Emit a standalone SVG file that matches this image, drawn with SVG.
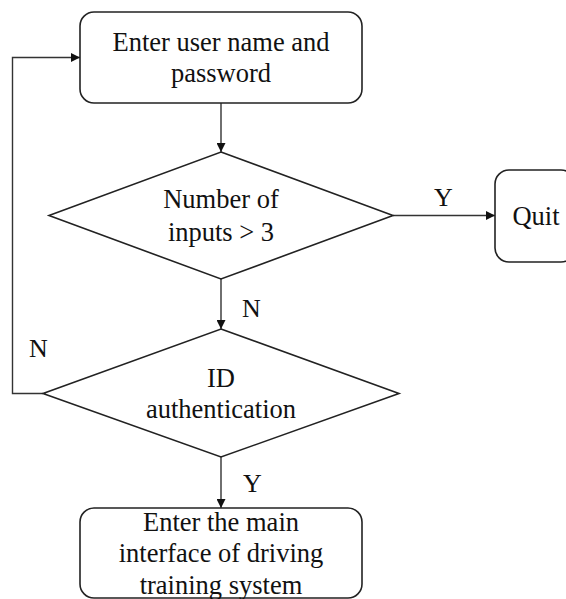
<svg xmlns="http://www.w3.org/2000/svg" width="566" height="599" viewBox="0 0 566 599" font-family="'Liberation Serif', 'DejaVu Serif', serif">
<style>
.shape{fill:#fff;stroke:#222;stroke-width:1.6}
.conn{fill:none;stroke:#333;stroke-width:1.4}
.t{font-family:'Liberation Serif','Times New Roman','DejaVu Serif',serif;font-size:26.5px;fill:#111;text-anchor:middle}
.lbl{font-family:'Liberation Serif','Times New Roman','DejaVu Serif',serif;font-size:26px;fill:#111;text-anchor:start}
</style>
<defs>
<marker id="arr" viewBox="0 0 10 10" refX="10" refY="5" markerWidth="9" markerHeight="9" markerUnits="userSpaceOnUse" orient="auto">
<path d="M0,0 L10,5 L0,10 z" fill="#111"/>
</marker>
</defs>
<g id="connectors">
<line class="conn" x1="221" y1="103" x2="221" y2="152" marker-end="url(#arr)"/>
<line class="conn" x1="393" y1="215.5" x2="495" y2="215.5" marker-end="url(#arr)"/>
<line class="conn" x1="221" y1="279" x2="221" y2="329" marker-end="url(#arr)"/>
<polyline class="conn" points="43,393.5 12.5,393.5 12.5,57.5 80,57.5" marker-end="url(#arr)"/>
<line class="conn" x1="221" y1="457" x2="221" y2="508" marker-end="url(#arr)"/>
<text class="lbl" x="434" y="206">Y</text>
<text class="lbl" x="242" y="317">N</text>
<text class="lbl" x="29" y="357">N</text>
<text class="lbl" x="243" y="492">Y</text>
</g>
<g id="n1">
<rect class="shape" x="80" y="12" width="282" height="91" rx="14"/>
<text class="t" x="221" y="51">Enter user name and</text>
<text class="t" x="221" y="82">password</text>
</g>
<g id="d1">
<polygon class="shape" points="221,152 393,215.5 221,279 49,215.5"/>
<text class="t" x="221" y="208">Number of</text>
<text class="t" x="221" y="241">inputs &gt; 3</text>
</g>
<g id="quit">
<rect class="shape" x="495" y="170" width="80" height="92" rx="14"/>
<text class="t" x="536" y="225">Quit</text>
</g>
<g id="d2">
<polygon class="shape" points="221,329 399,393.5 221,457 43,393.5"/>
<text class="t" x="221" y="387">ID</text>
<text class="t" x="221" y="418">authentication</text>
</g>
<g id="n2">
<rect class="shape" x="80" y="508" width="282" height="90" rx="14"/>
<text class="t" x="221" y="531">Enter the main</text>
<text class="t" x="221" y="562">interface of driving</text>
<text class="t" x="221" y="594">training system</text>
</g>
</svg>
